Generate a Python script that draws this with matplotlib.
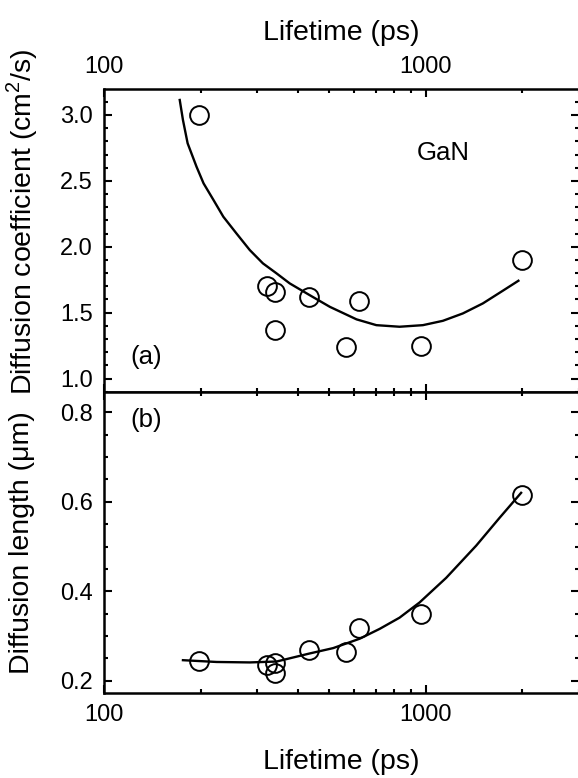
import matplotlib
matplotlib.use('Agg')
import matplotlib.pyplot as plt
from matplotlib.ticker import FixedLocator, MultipleLocator, NullFormatter, FuncFormatter

plt.rcParams['font.family'] = ['Liberation Sans', 'DejaVu Sans']
plt.rcParams['mathtext.fontset'] = 'custom'
plt.rcParams['mathtext.rm'] = 'Liberation Sans'

# measured lifetimes (ps)
tau = [197, 322, 340, 340, 434, 565, 622, 967, 2000]
# diffusion coefficient (cm^2/s)
diff_coef = [3.00, 1.70, 1.66, 1.37, 1.62, 1.24, 1.59, 1.25, 1.90]
# diffusion length (um)
diff_len = [0.245, 0.236, 0.239, 0.217, 0.268, 0.264, 0.317, 0.349, 0.616]

# fitted curves
fit_tau_d = [172, 176, 182, 194, 204, 219, 235, 258, 284, 312, 344, 378, 436,
             504, 610, 703, 830, 981, 1132, 1306, 1507, 1738, 1944]
fit_d = [3.114, 2.962, 2.785, 2.607, 2.481, 2.355, 2.228, 2.102, 1.975, 1.874, 1.798, 1.722, 1.633,
         1.544, 1.449, 1.405, 1.393, 1.405, 1.438, 1.494, 1.570, 1.666, 1.742]
fit_tau_l = [176, 224, 284, 344, 436, 516, 624, 720, 830, 958, 1159, 1437, 1698, 1982]
fit_l = [0.246, 0.242, 0.241, 0.243, 0.261, 0.273, 0.294, 0.316, 0.341, 0.375, 0.430,
         0.502, 0.564, 0.620]

W, H = 578, 778
fig = plt.figure(figsize=(W / 100, H / 100), dpi=100)

left, right = 104 / W, 579 / W
ax_a = fig.add_axes([left, 1 - 391.7 / H, right - left, (391.7 - 89.3) / H])
ax_b = fig.add_axes([left, 1 - 693.3 / H, right - left, (693.3 - 391.7) / H])

marker_kw = dict(ls='none', marker='o', ms=13.5, mfc='none', mec='black', mew=1.4)

for ax in (ax_a, ax_b):
    ax.set_xscale('log')
    ax.set_xlim(100, 3000)
    ax.xaxis.set_major_locator(FixedLocator([100, 1000]))
    ax.xaxis.set_minor_locator(FixedLocator([200, 300, 400, 500, 600, 700, 800, 900, 2000, 3000]))
    ax.xaxis.set_major_formatter(FuncFormatter(lambda v, p: '%d' % v))
    ax.xaxis.set_minor_formatter(NullFormatter())
    ax.tick_params(which='both', direction='in', top=True, right=True, labelsize=17, pad=8)
    ax.tick_params(which='major', length=5.8, width=1.5)
    ax.tick_params(which='minor', length=3, width=1.5)
    for s in ax.spines.values():
        s.set_linewidth(1.8)

# (a) diffusion coefficient
ax_a.plot(fit_tau_d, fit_d, color='black', lw=1.7)
ax_a.plot(tau, diff_coef, **marker_kw)
ax_a.set_ylim(0.9, 3.195)
ax_a.yaxis.set_major_locator(MultipleLocator(0.5))
ax_a.yaxis.set_minor_locator(MultipleLocator(0.1))
ax_a.yaxis.set_major_formatter(FuncFormatter(lambda v, p: '%.1f' % v))
ax_a.tick_params(labeltop=True, labelbottom=False)
ax_a.xaxis.set_label_position('top')
ax_a.set_xlabel('Lifetime (ps)', fontsize=20.5, labelpad=12)
ax_a.set_ylabel(r'Diffusion coefficient (cm$^\mathregular{2}$/s)', fontsize=20.5, va='center')
ax_a.yaxis.set_label_coords(-82 / 475, (391.7 - 222) / 302.4)
ax_a.text(0.714, 0.79, 'GaN', transform=ax_a.transAxes, fontsize=18.5, ha='center', va='center')
ax_a.text(0.088, 0.116, '(a)', transform=ax_a.transAxes, fontsize=18.5, ha='center', va='center')

# (b) diffusion length
ax_b.plot(fit_tau_l, fit_l, color='black', lw=1.7)
ax_b.plot(tau, diff_len, **marker_kw)
ax_b.set_ylim(0.172, 0.846)
ax_b.yaxis.set_major_locator(MultipleLocator(0.2))
ax_b.yaxis.set_minor_locator(MultipleLocator(0.05))
ax_b.yaxis.set_major_formatter(FuncFormatter(lambda v, p: '%.1f' % v))
ax_b.set_xlabel('Lifetime (ps)', fontsize=20.5, labelpad=16)
ax_b.set_ylabel('Diffusion length (\u03bcm)', fontsize=20.5, va='center')
ax_b.yaxis.set_label_coords(-82 / 475, 0.5)
ax_b.text(0.088, 0.906, '(b)', transform=ax_b.transAxes, fontsize=18.5, ha='center', va='center')

fig.savefig('out.png', dpi=100)
